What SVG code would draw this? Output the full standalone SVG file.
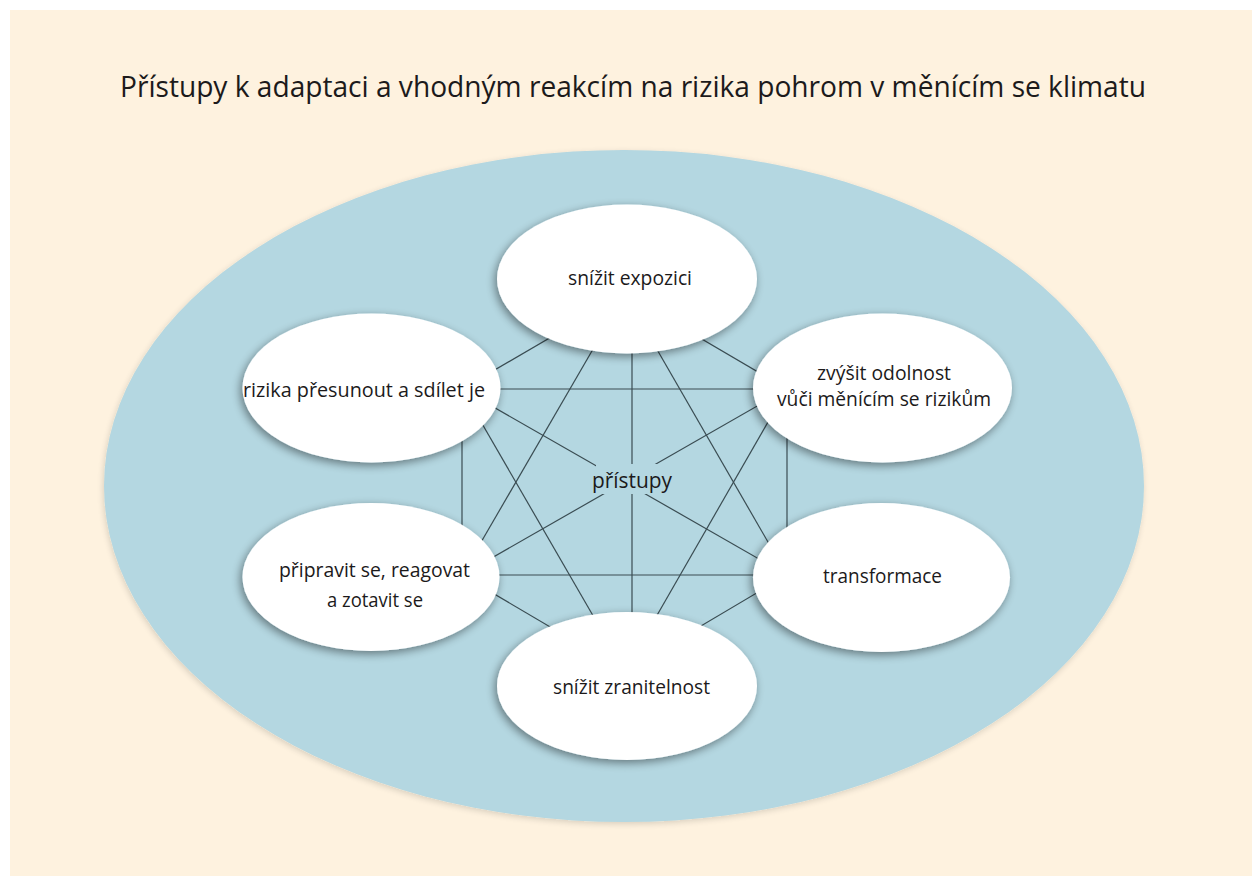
<svg xmlns="http://www.w3.org/2000/svg" width="1252" height="876" viewBox="0 0 1252 876">
<style>
.node{fill:#ffffff;filter:url(#sh)}
.lbl{font-family:"Open Sans","Noto Sans","Liberation Sans",sans-serif;font-size:20px;fill:#1c1a1b;text-anchor:middle}
.title{font-family:"Open Sans","Noto Sans","Liberation Sans",sans-serif;font-size:30px;fill:#1c1a1b;text-anchor:middle}
.conn line{stroke:#3a4c52;stroke-width:1.2}
</style>
<defs>
<filter id="sh" x="-20%" y="-25%" width="140%" height="155%">
<feGaussianBlur in="SourceAlpha" stdDeviation="5"/>
<feOffset dx="-2" dy="3"/>
<feComponentTransfer><feFuncA type="linear" slope="0.45"/></feComponentTransfer>
<feMerge><feMergeNode/><feMergeNode in="SourceGraphic"/></feMerge>
</filter>
<filter id="sh2" x="-5%" y="-5%" width="110%" height="115%">
<feGaussianBlur in="SourceAlpha" stdDeviation="3"/>
<feOffset dx="-1" dy="2"/>
<feComponentTransfer><feFuncA type="linear" slope="0.15"/></feComponentTransfer>
<feMerge><feMergeNode/><feMergeNode in="SourceGraphic"/></feMerge>
</filter>
</defs>
<rect x="0" y="0" width="1252" height="876" fill="#ffffff"/>
<rect x="10" y="10" width="1242" height="866" fill="#fef2df"/>
<text class="title" x="633" y="97" textLength="1026" lengthAdjust="spacingAndGlyphs">Přístupy k adaptaci a vhodným reakcím na rizika pohrom v měnícím se klimatu</text>
<g id="outer">
<ellipse cx="624" cy="486" rx="520" ry="336" fill="#b4d7e1" filter="url(#sh2)"/>
</g>
<g id="connectors" class="conn">
<line x1="625" y1="294" x2="462" y2="389"/>
<line x1="625" y1="294" x2="787" y2="389"/>
<line x1="625" y1="294" x2="462" y2="575"/>
<line x1="625" y1="294" x2="787" y2="575"/>
<line x1="632" y1="294" x2="632" y2="671"/>
<line x1="462" y1="389" x2="787" y2="389"/>
<line x1="462" y1="389" x2="462" y2="575"/>
<line x1="462" y1="389" x2="787" y2="575"/>
<line x1="462" y1="389" x2="625" y2="671"/>
<line x1="787" y1="389" x2="787" y2="575"/>
<line x1="787" y1="389" x2="462" y2="575"/>
<line x1="787" y1="389" x2="625" y2="671"/>
<line x1="462" y1="575" x2="787" y2="575"/>
<line x1="462" y1="575" x2="625" y2="671"/>
<line x1="787" y1="575" x2="625" y2="671"/>
</g>
<g id="center">
<rect x="596" y="464" width="72" height="30" fill="#b4d7e1"/>
<text class="lbl" x="632" y="488" style="font-size:22px" textLength="80" lengthAdjust="spacingAndGlyphs">přístupy</text>
</g>
<g id="n-top">
<ellipse class="node" cx="627" cy="279" rx="130" ry="74.5"/>
<text class="lbl" x="630" y="285" textLength="124" lengthAdjust="spacingAndGlyphs">snížit expozici</text>
</g>
<g id="n-topleft">
<ellipse class="node" cx="371.5" cy="388" rx="129" ry="74.5"/>
<text class="lbl" x="364" y="397" textLength="242" lengthAdjust="spacingAndGlyphs">rizika přesunout a sdílet je</text>
</g>
<g id="n-topright">
<ellipse class="node" cx="882.5" cy="388" rx="129.5" ry="74.5"/>
<text class="lbl" x="884" y="380" textLength="134" lengthAdjust="spacingAndGlyphs">zvýšit odolnost</text>
<text class="lbl" x="884" y="406" textLength="214" lengthAdjust="spacingAndGlyphs">vůči měnícím se rizikům</text>
</g>
<g id="n-bottomleft">
<ellipse class="node" cx="371" cy="577" rx="128.5" ry="74"/>
<text class="lbl" x="374.5" y="577" textLength="191" lengthAdjust="spacingAndGlyphs">připravit se, reagovat</text>
<text class="lbl" x="375" y="607" textLength="96" lengthAdjust="spacingAndGlyphs">a zotavit se</text>
</g>
<g id="n-bottomright">
<ellipse class="node" cx="881.5" cy="577.5" rx="128.5" ry="74.5"/>
<text class="lbl" x="882.5" y="583" textLength="119" lengthAdjust="spacingAndGlyphs">transformace</text>
</g>
<g id="n-bottom">
<ellipse class="node" cx="627" cy="686" rx="130" ry="74"/>
<text class="lbl" x="631.5" y="694" textLength="157" lengthAdjust="spacingAndGlyphs">snížit zranitelnost</text>
</g>
</svg>
